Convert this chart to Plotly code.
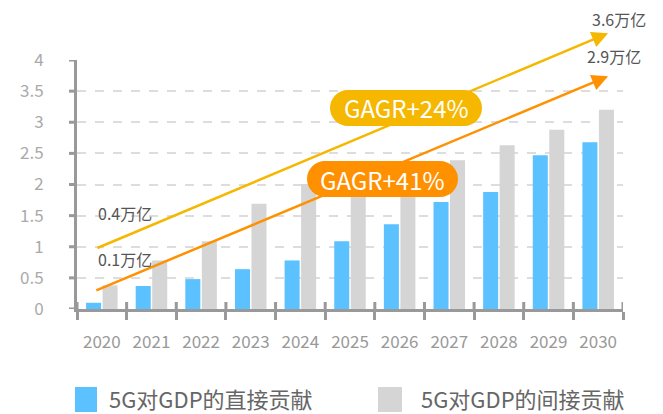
import plotly.graph_objects as go

# ---------------- data ----------------
years = ["2020", "2021", "2022", "2023", "2024", "2025", "2026", "2027", "2028", "2029", "2030"]
direct = [0.10, 0.37, 0.48, 0.64, 0.78, 1.09, 1.36, 1.72, 1.88, 2.47, 2.68]
indirect = [0.38, 0.78, 1.09, 1.69, 2.01, 2.15, 2.28, 2.39, 2.63, 2.88, 3.20]
series_names = ["5G对GDP的直接贡献", "5G对GDP的间接贡献"]
y_ticks = [0, 0.5, 1, 1.5, 2, 2.5, 3, 3.5, 4]

# trend arrows (start index, start value, end index, end value)
trend_total = (-0.12, 0.97, 10.2, 4.43)
trend_direct = (-0.14, 0.29, 10.2, 3.74)
trend_labels = ["0.4万亿", "3.6万亿", "0.1万亿", "2.9万亿"]
cagr_labels = ["GAGR+24%", "GAGR+41%"]

# ---------------- style ----------------
BLUE = "#5BC1FF"
GRAY = "#D5D5D5"
YELLOW = "#F5B700"
ORANGE = "#FF9000"
AXIS = "#999999"
FONT = "Noto Sans CJK SC"

PAGE_OFFSET = 8  # browser default body margin
W, H = 663 - PAGE_OFFSET, 414 - PAGE_OFFSET
ML, MR, MT, MB = 77 - PAGE_OFFSET, 40, 60 - PAGE_OFFSET, 105
PW, PH = W - ML - MR, H - MT - MB
PLOT_LEFT, PLOT_BOTTOM = 77, 309  # page pixels


def px2x(px):
    return (px - PLOT_LEFT) / PW


def px2y(py):
    return (PLOT_BOTTOM - py) / PH


def pill_path(cx, cy, w, h):
    r = h / 2
    k = 0.5523 * r
    x0, x1 = cx - w / 2 + r, cx + w / 2 - r
    yt, yb = cy - r, cy + r
    pts = [
        f"M{px2x(x0)},{px2y(yt)}",
        f"L{px2x(x1)},{px2y(yt)}",
        f"C{px2x(x1 + k)},{px2y(yt)} {px2x(x1 + r)},{px2y(cy - k)} {px2x(x1 + r)},{px2y(cy)}",
        f"C{px2x(x1 + r)},{px2y(cy + k)} {px2x(x1 + k)},{px2y(yb)} {px2x(x1)},{px2y(yb)}",
        f"L{px2x(x0)},{px2y(yb)}",
        f"C{px2x(x0 - k)},{px2y(yb)} {px2x(x0 - r)},{px2y(cy + k)} {px2x(x0 - r)},{px2y(cy)}",
        f"C{px2x(x0 - r)},{px2y(cy - k)} {px2x(x0 - k)},{px2y(yt)} {px2x(x0)},{px2y(yt)}",
        "Z",
    ]
    return " ".join(pts)


fig = go.Figure()
fig.add_trace(go.Bar(x=years, y=direct, name=series_names[0], marker=dict(color=BLUE, line=dict(width=0)),
                     showlegend=False))
fig.add_trace(go.Bar(x=years, y=indirect, name=series_names[1], marker=dict(color=GRAY, line=dict(width=0)),
                     showlegend=False))

shapes = [
    dict(type="path", xref="paper", yref="paper", path=pill_path(406, 108, 152, 36),
         fillcolor=YELLOW, line=dict(width=0), layer="above"),
    dict(type="path", xref="paper", yref="paper", path=pill_path(382.5, 179, 151, 36),
         fillcolor=ORANGE, line=dict(width=0), layer="above"),
    # legend swatches
    dict(type="rect", xref="paper", yref="paper", x0=px2x(75), x1=px2x(97), y0=px2y(412), y1=px2y(387),
         fillcolor=BLUE, line=dict(width=0)),
    dict(type="rect", xref="paper", yref="paper", x0=px2x(378), x1=px2x(402), y0=px2y(412), y1=px2y(387),
         fillcolor=GRAY, line=dict(width=0)),
]
# visible short y tick marks (the axis' own ticks are kept transparent to push labels outward)
for v in y_ticks:
    shapes.append(dict(type="line", xref="paper", yref="y", x0=-8 / PW, x1=0, y0=v, y1=v,
                       line=dict(color=AXIS, width=3), layer="above"))
# upper half of the x tick marks (they cross the axis line in the original)
for i in range(len(years) + 1):
    shapes.append(dict(type="line", xref="x", yref="paper", x0=i - 0.5, x1=i - 0.5, y0=0, y1=7 / PH,
                       line=dict(color=AXIS, width=3), layer="above"))

annotations = []
for (sx, sy, ex, ey), col in [(trend_total, YELLOW), (trend_direct, ORANGE)]:
    annotations.append(dict(x=ex, y=ey, ax=sx, ay=sy, xref="x", yref="y", axref="x", ayref="y",
                            text="", showarrow=True, arrowhead=2, arrowsize=1.3, arrowwidth=2.5,
                            arrowcolor=col, standoff=0, startstandoff=0))

lab_font = dict(family=FONT, size=16, color="#555555")
annotations += [
    dict(x=px2x(96), y=px2y(213), xref="paper", yref="paper", text=trend_labels[0], showarrow=False,
         xanchor="left", yanchor="middle", font=lab_font),
    dict(x=px2x(648), y=px2y(19), xref="paper", yref="paper", text=trend_labels[1], showarrow=False,
         xanchor="right", yanchor="middle", font=lab_font),
    dict(x=px2x(96), y=px2y(259), xref="paper", yref="paper", text=trend_labels[2], showarrow=False,
         xanchor="left", yanchor="middle", font=lab_font),
    dict(x=px2x(643), y=px2y(56), xref="paper", yref="paper", text=trend_labels[3], showarrow=False,
         xanchor="right", yanchor="middle", font=lab_font),
    dict(x=px2x(406), y=px2y(108), xref="paper", yref="paper", text=cagr_labels[0], showarrow=False,
         xanchor="center", yanchor="middle", font=dict(family=FONT, size=24, color="white")),
    dict(x=px2x(382.5), y=px2y(179), xref="paper", yref="paper", text=cagr_labels[1], showarrow=False,
         xanchor="center", yanchor="middle", font=dict(family=FONT, size=24, color="white")),
    dict(x=px2x(107), y=px2y(398), xref="paper", yref="paper", text=series_names[0], showarrow=False,
         xanchor="left", yanchor="middle", font=dict(family=FONT, size=22, color="#666666")),
    dict(x=px2x(419), y=px2y(398), xref="paper", yref="paper", text=series_names[1], showarrow=False,
         xanchor="left", yanchor="middle", font=dict(family=FONT, size=22, color="#666666")),
]

fig.update_layout(
    width=W, height=H,
    margin=dict(l=ML, r=MR, t=MT, b=MB, pad=0, autoexpand=False),
    paper_bgcolor="white", plot_bgcolor="white",
    barmode="group", bargap=0.335, bargroupgap=0.09,
    font=dict(family=FONT),
    shapes=shapes, annotations=annotations,
    showlegend=False,
)
fig.update_xaxes(
    type="category", categoryorder="array", categoryarray=years,
    range=[-0.5, 10.5], automargin=False,
    showline=True, linecolor=AXIS, linewidth=3,
    ticks="outside", tickson="boundaries", ticklen=8, tickwidth=3, tickcolor=AXIS,
    ticklabelstandoff=16,
    tickfont=dict(family=FONT, size=17, color="#999999"),
    showgrid=False,
)
fig.update_yaxes(
    range=[0, 4], tickvals=y_ticks, ticktext=[f"{v:g}" for v in y_ticks], automargin=False,
    showline=True, linecolor=AXIS, linewidth=3,
    ticks="outside", ticklen=27, tickwidth=1, tickcolor="rgba(0,0,0,0)",
    tickfont=dict(family=FONT, size=17, color="#AAAAAA"),
    showgrid=True, gridcolor="#DDDDDD", gridwidth=2, griddash="dash",
    zeroline=False,
)

fig.write_html("out.html")
